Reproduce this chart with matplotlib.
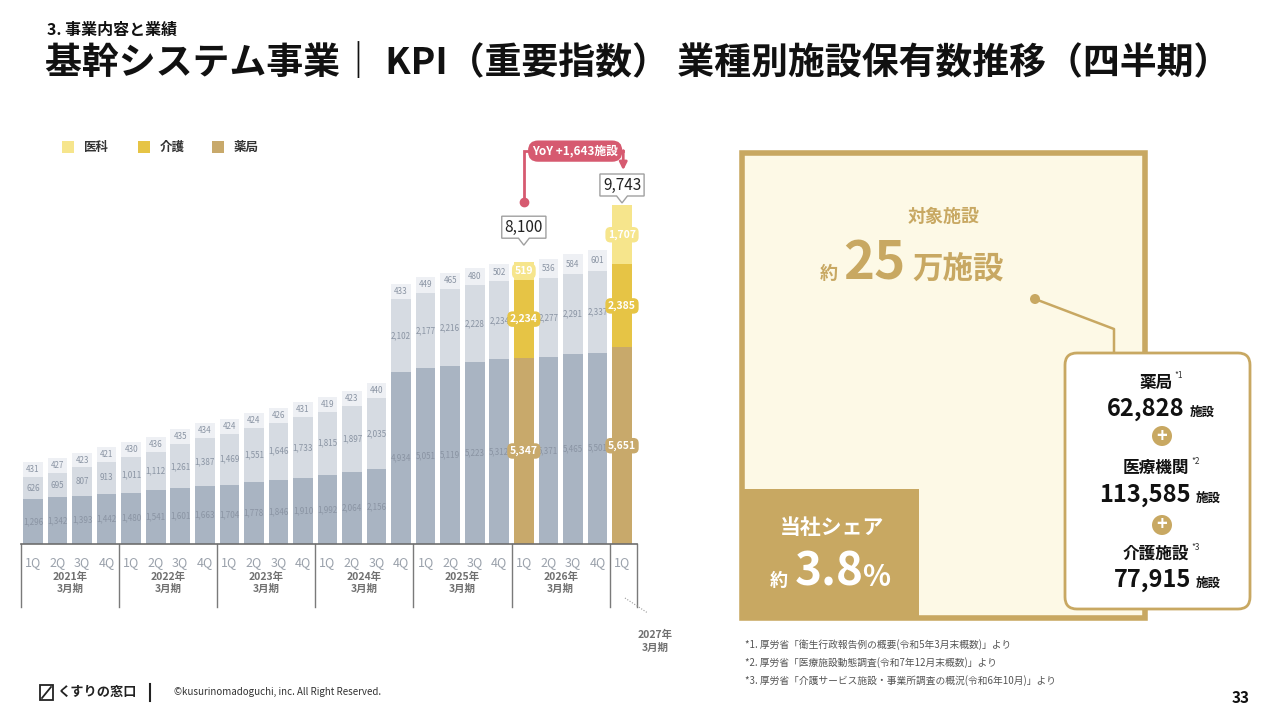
import matplotlib
matplotlib.use("Agg")
import matplotlib.pyplot as plt
from matplotlib.patches import Rectangle, FancyBboxPatch, Circle, Polygon

plt.rcParams['font.family'] = ['Noto Sans CJK JP', 'DejaVu Sans']

# ---- data ----
quarters = ['1Q', '2Q', '3Q', '4Q'] * 6 + ['1Q']
fiscal_years = ['2021年\n3月期', '2022年\n3月期', '2023年\n3月期',
                '2024年\n3月期', '2025年\n3月期', '2026年\n3月期']
last_year = '2027年\n3月期'
series_names = ['医科', '介護', '薬局']

pharmacy = [1296, 1342, 1393, 1442, 1480, 1541, 1601, 1663,
            1704, 1778, 1846, 1910, 1992, 2064, 2156, 4934,
            5051, 5119, 5223, 5312, 5347, 5371, 5465, 5501, 5651]
nursing = [626, 695, 807, 913, 1011, 1112, 1261, 1387,
           1469, 1551, 1646, 1733, 1815, 1897, 2035, 2102,
           2177, 2216, 2228, 2234, 2234, 2277, 2291, 2337, 2385]
medical = [431, 427, 423, 421, 430, 436, 435, 434,
           424, 424, 426, 431, 419, 423, 440, 433,
           449, 465, 480, 502, 519, 536, 584, 601, 1707]
highlight = [20, 24]

target_total = '25'
share = '3.8'
breakdown_names = ['薬局', '医療機関', '介護施設']
breakdown_marks = ['*1', '*2', '*3']
breakdown_values = ['62,828', '113,585', '77,915']
footnotes = ['*1. 厚労省「衛生行政報告例の概要(令和5年3月末概数)」より',
             '*2. 厚労省「医療施設動態調査(令和7年12月末概数)」より',
             '*3. 厚労省「介護サービス施設・事業所調査の概況(令和6年10月)」より']

# ---- colours ----
gray_c = ['#EEF0F4', '#D6DBE2', '#A9B4C2']     # medical, nursing, pharmacy
hi_c = ['#F6E58C', '#E6C445', '#C8A96B']
gold = '#C8A862'
pink = '#D65A70'
lab_gray = '#8A94A3'

fig = plt.figure(figsize=(12.8, 7.2), dpi=100)
fig.patch.set_facecolor('white')

# chart axes: baseline at y=544px, top at 130px
ax = fig.add_axes([20 / 1280, 1 - 544 / 720, 616 / 1280, 414 / 720])
ax.set_xlim(-0.53, 24.57)
ax.set_ylim(0, 11900)
ax.axis('off')

n = len(pharmacy)
xs = list(range(n))
totals = [p + c + m for p, c, m in zip(pharmacy, nursing, medical)]
for i in xs:
    cols = hi_c if i in highlight else gray_c
    ax.bar(i, pharmacy[i], width=0.8, color=cols[2], zorder=2)
    ax.bar(i, nursing[i], bottom=pharmacy[i], width=0.8, color=cols[1], zorder=2)
    ax.bar(i, medical[i], bottom=pharmacy[i] + nursing[i], width=0.8, color=cols[0], zorder=2)
    segs = [(pharmacy[i], pharmacy[i] / 2, cols[2]),
            (nursing[i], pharmacy[i] + nursing[i] / 2, cols[1]),
            (medical[i], pharmacy[i] + nursing[i] + medical[i] / 2, cols[0])]
    for val, ypos, c in segs:
        if i in highlight:
            ax.text(i, ypos, f'{val:,}', ha='center', va='center', fontsize=7.5,
                    color='white', fontweight='bold', zorder=4,
                    bbox=dict(boxstyle='round,pad=0.25,rounding_size=0.5', fc=c, ec='none'))
        else:
            ax.text(i, ypos, f'{val:,}', ha='center', va='center', fontsize=5.8,
                    color=lab_gray, zorder=3)

xt = ax.get_xaxis_transform()


def ay(py):
    return (544 - py) / 414


# baseline and group dividers
ax.plot([-0.47, 24.6], [0, 0], color='#6E6E6E', lw=1.2, clip_on=False, zorder=3)
for xd in [-0.47, 3.5, 7.5, 11.5, 15.5, 19.5, 23.5, 24.6]:
    ax.plot([xd, xd], [ay(544), ay(607)], transform=xt, color='#7A7A7A', lw=1, clip_on=False)
for i, q in zip(xs, quarters):
    ax.text(i, ay(563), q, transform=xt, ha='center', va='center', fontsize=9,
            color='#9AA1AB')
for g, lab in enumerate(fiscal_years):
    ax.text(4 * g + 1.5, ay(583), lab, transform=xt, ha='center', va='center',
            fontsize=7.5, color='#707070', fontweight='bold', linespacing=1.25)
ax.plot([24.12, 25.05], [ay(598), ay(613)], transform=xt, color='#9A9A9A', lw=0.8,
        ls=(0, (1, 1.5)), clip_on=False)
ax.text(25.35, ay(641), last_year, transform=xt, ha='center', va='center',
        fontsize=7.5, color='#707070', fontweight='bold', linespacing=1.35)

# callouts
box_h = 632
gaps = {20: 490, 24: 60}
box_tops = {}
for i in highlight:
    tip = totals[i] + gaps[i]
    base = tip + 200
    top = base + box_h
    box_tops[i] = top
    pts = [(i - 0.9, base), (i - 0.22, base), (i, tip), (i + 0.22, base),
           (i + 0.9, base), (i + 0.9, top), (i - 0.9, top)]
    ax.add_patch(Polygon(pts, closed=True, fc='white', ec='#A0A0A0', lw=1,
                         clip_on=False, zorder=5))
    ax.text(i, base + box_h / 2, f'{totals[i]:,}', ha='center', va='center',
            fontsize=11, color='#222222', zorder=6)

# YoY connector
y_line = 11293
a, b = highlight
dot_y = box_tops[a] + 400
ax.plot([a, a, b + 0.05], [dot_y, y_line, y_line], color=pink, lw=2,
        clip_on=False, zorder=5, solid_joinstyle='miter')
ax.plot([a], [dot_y], 'o', color=pink, ms=6, clip_on=False, zorder=6)
ax.annotate('', xy=(b + 0.05, box_tops[b] + 110), xytext=(b + 0.05, y_line + 15),
            arrowprops=dict(arrowstyle='-|>', color=pink, lw=2, mutation_scale=11,
                            shrinkA=0, shrinkB=0), zorder=6, annotation_clip=False)
ax.text((a + b) / 2 + 0.09, y_line, f'YoY +{totals[b] - totals[a]:,}施設',
        ha='center', va='center', fontsize=8.5, color='white', fontweight='bold',
        zorder=7, bbox=dict(boxstyle='round,pad=0.35,rounding_size=0.85', fc=pink, ec='none'))

# ---- overlay in pixel coordinates ----
ov = fig.add_axes([0, 0, 1, 1], zorder=-1)
ov.set_xlim(0, 1280)
ov.set_ylim(720, 0)
ov.axis('off')

ov.text(47, 30, '3. 事業内容と業績', fontsize=11.5, fontweight='bold', va='center', color='#111')
ov.text(45, 64, '基幹システム事業｜ KPI（重要指数） 業種別施設保有数推移（四半期）',
        fontsize=26.6, fontweight='bold', va='center', color='#111')

# legend
for k, (name, c) in enumerate(zip(series_names, hi_c)):
    x0 = [62, 138, 212][k]
    ov.add_patch(Rectangle((x0, 141), 12, 12, fc=c, ec='none'))
    ov.text(x0 + 22, 147, name, fontsize=9, fontweight='bold', va='center', color='#333')

# right panel
ov.add_patch(Rectangle((742, 153), 403, 465, fc='#FDF9E6', ec=gold, lw=4))
ov.text(944, 216, '対象施設', fontsize=13, fontweight='bold', color=gold,
        ha='center', va='center')
ov.text(820, 279, '約', fontsize=13, fontweight='bold', color=gold, va='baseline')
ov.text(843, 279, target_total, fontsize=38, fontweight='bold', color=gold, va='baseline')
ov.text(912, 279, '万施設', fontsize=22, fontweight='bold', color=gold, va='baseline')

ov.plot([1035, 1114, 1114], [299, 329, 353], color=gold, lw=1.8)
ov.add_patch(Circle((1035, 299), 5, fc=gold, ec='none'))

ov.add_patch(FancyBboxPatch((1065, 353), 185, 256,
                            boxstyle='round,pad=0,rounding_size=12',
                            fc='white', ec=gold, lw=2, zorder=3))
name_y = [383, 468, 554]
val_y = [416, 502, 587]
val_right = [1185, 1191, 1191]
for k in range(3):
    ov.text(1156, name_y[k], breakdown_names[k], fontsize=12, fontweight='bold',
            ha='center', va='center', color='#111', zorder=4)
    half_w = 8.4 * len(breakdown_names[k])
    ov.text(1156 + half_w + 2, name_y[k] - 7, breakdown_marks[k], fontsize=6,
            ha='left', va='center', color='#333', zorder=4)
    ov.text(val_right[k], val_y[k], breakdown_values[k], fontsize=17,
            fontweight='bold', ha='right', va='baseline', color='#111', zorder=4)
    ov.text(val_right[k] + 5, val_y[k], '施設', fontsize=9,
            fontweight='bold', ha='left', va='baseline', color='#111', zorder=4)
for py in [436, 525]:
    ov.add_patch(Circle((1162, py), 10, fc=gold, ec='none', zorder=4))
    ov.text(1162, py, '+', fontsize=13, fontweight='bold', color='white',
            ha='center', va='center', zorder=5)

ov.add_patch(Rectangle((744, 489), 175, 127, fc=gold, ec='none', zorder=2))
ov.text(832, 528, '当社シェア', fontsize=15, fontweight='bold', color='white',
        ha='center', va='center', zorder=3)
ov.text(770, 586, '約', fontsize=13, fontweight='bold', color='white', va='baseline', zorder=3)
ov.text(795, 586, share, fontsize=33, fontweight='bold', color='white', va='baseline', zorder=3)
ov.text(862, 586, '%', fontsize=21, fontweight='bold', color='white', va='baseline', zorder=3)

for k, t in enumerate(footnotes):
    ov.text(745, 645 + 18 * k, t, fontsize=7, color='#555', va='center')
ov.text(1250, 698, '33', fontsize=11, fontweight='bold', ha='right', va='center', color='#111')

# footer
ov.add_patch(Rectangle((40, 685), 13, 15, fc='white', ec='#222', lw=1.3))
ov.plot([42, 51], [698, 687], color='#222', lw=1.3)
ov.text(57, 692, 'くすりの窓口', fontsize=9.5, fontweight='bold', va='center', color='#222')
ov.plot([150, 150], [684, 701], color='#222', lw=1.5)
ov.text(174, 692, '©kusurinomadoguchi, inc. All Right Reserved.', fontsize=7,
        va='center', color='#333')

fig.savefig('out.png', dpi=100)
